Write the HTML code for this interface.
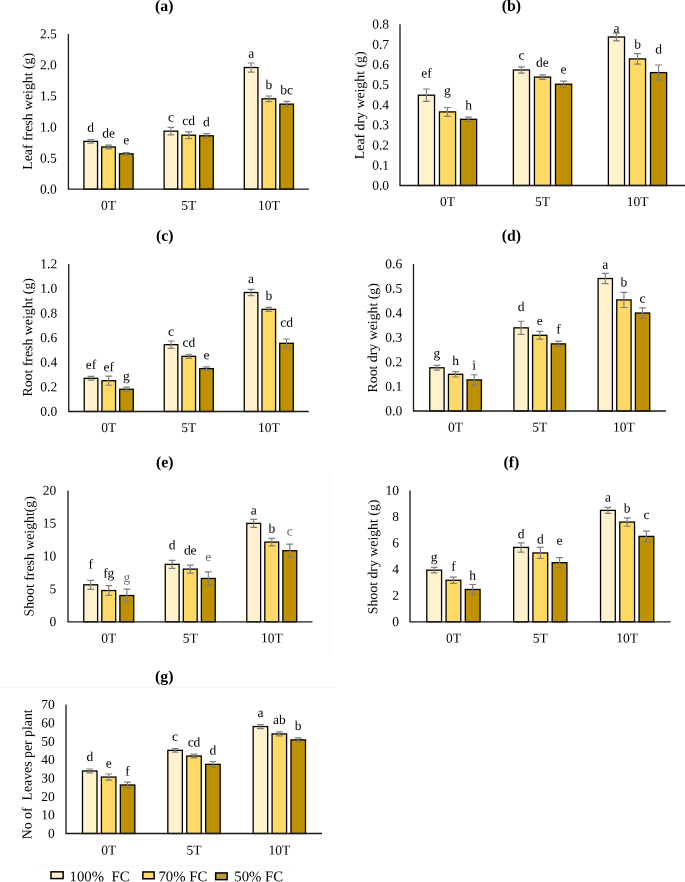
<!DOCTYPE html>
<html><head><meta charset="utf-8"><style>
html,body{margin:0;padding:0;background:#fff;}
body{width:685px;height:882px;overflow:hidden;}
svg{display:block;font-family:"Liberation Serif",serif;will-change:transform;}
.t{font-size:15.8px;font-weight:bold;text-anchor:middle;}
.k{font-size:13.5px;text-anchor:end;}
.yt{font-size:13.8px;text-anchor:middle;}
.cat{font-size:13.5px;text-anchor:middle;}
.l{font-size:13.5px;text-anchor:middle;}
.lg{font-size:14.8px;}
.bar{stroke:#000;stroke-width:1.3;}
.err{stroke:#7F7F7F;stroke-width:1.2;fill:none;}
.ax{stroke:#1a1a1a;stroke-width:1.3;fill:none;}
</style></head><body>
<svg width="685" height="882" viewBox="0 0 685 882">
<g><text x="164.3" y="11.05" class="t" transform="rotate(0.1 164.3 11.05)">(a)</text><text x="56.8" y="193.5" class="k" transform="rotate(0.1 56.8 193.5)">0.0</text><text x="56.8" y="162.46" class="k" transform="rotate(0.1 56.8 162.46)">0.5</text><text x="56.8" y="131.42" class="k" transform="rotate(0.1 56.8 131.42)">1.0</text><text x="56.8" y="100.38" class="k" transform="rotate(0.1 56.8 100.38)">1.5</text><text x="56.8" y="69.34" class="k" transform="rotate(0.1 56.8 69.34)">2.0</text><text x="56.8" y="38.3" class="k" transform="rotate(0.1 56.8 38.3)">2.5</text><text transform="translate(32.2,111.3) rotate(-89.9)" class="yt">Leaf fresh weight (g)</text><rect x="83.91" y="141.4" width="13.63" height="47.8" fill="#FFF2CC" class="bar"/><rect x="101.68" y="146.99" width="13.63" height="42.21" fill="#FFD966" class="bar"/><rect x="119.46" y="153.81" width="13.63" height="35.39" fill="#BF9000" class="bar"/><rect x="164.11" y="131.16" width="13.63" height="58.04" fill="#FFF2CC" class="bar"/><rect x="181.88" y="135.19" width="13.63" height="54.01" fill="#FFD966" class="bar"/><rect x="199.66" y="135.81" width="13.63" height="53.39" fill="#BF9000" class="bar"/><rect x="244.31" y="67.52" width="13.63" height="121.68" fill="#FFF2CC" class="bar"/><rect x="262.08" y="98.81" width="13.63" height="90.39" fill="#FFD966" class="bar"/><rect x="279.86" y="104.15" width="13.63" height="85.05" fill="#BF9000" class="bar"/><path d="M90.73 139.54V143.26M87.33 139.54H94.13M87.33 143.26H94.13" class="err"/><path d="M108.5 145.12V148.85M105.1 145.12H111.9M105.1 148.85H111.9" class="err"/><path d="M126.27 152.57V155.06M122.87 152.57H129.67M122.87 155.06H129.67" class="err"/><path d="M170.93 127.43V134.88M167.53 127.43H174.33M167.53 134.88H174.33" class="err"/><path d="M188.7 131.78V138.6M185.3 131.78H192.1M185.3 138.6H192.1" class="err"/><path d="M206.47 133.64V137.98M203.07 133.64H209.87M203.07 137.98H209.87" class="err"/><path d="M251.13 62.99V72.06M247.73 62.99H254.53M247.73 72.06H254.53" class="err"/><path d="M268.9 96.02V101.61M265.5 96.02H272.3M265.5 101.61H272.3" class="err"/><path d="M286.67 101.36V106.94M283.27 101.36H290.07M283.27 106.94H290.07" class="err"/><text x="90.73" y="131.8" class="l" transform="rotate(0.1 90.73 131.8)">d</text><text x="108.5" y="137.4" class="l" transform="rotate(0.1 108.5 137.4)">de</text><text x="126.27" y="144.3" class="l" transform="rotate(0.1 126.27 144.3)">e</text><text x="170.93" y="121.4" class="l" transform="rotate(0.1 170.93 121.4)">c</text><text x="188.7" y="125.1" class="l" transform="rotate(0.1 188.7 125.1)">cd</text><text x="206.47" y="126.3" class="l" transform="rotate(0.1 206.47 126.3)">d</text><text x="251.13" y="57.8" class="l" transform="rotate(0.1 251.13 57.8)">a</text><text x="268.9" y="89.1" class="l" transform="rotate(0.1 268.9 89.1)">b</text><text x="286.67" y="94.2" class="l" transform="rotate(0.1 286.67 94.2)">bc</text><path d="M68.4 34V189.2H309" class="ax"/><text x="108.5" y="209.8" class="cat" transform="rotate(0.1 108.5 209.8)">0T</text><text x="188.7" y="209.8" class="cat" transform="rotate(0.1 188.7 209.8)">5T</text><text x="268.9" y="209.8" class="cat" transform="rotate(0.1 268.9 209.8)">10T</text></g><g><text x="511.3" y="10.85" class="t" transform="rotate(0.1 511.3 10.85)">(b)</text><text x="389" y="189.8" class="k" transform="rotate(0.1 389 189.8)">0.0</text><text x="389" y="169.65" class="k" transform="rotate(0.1 389 169.65)">0.1</text><text x="389" y="149.5" class="k" transform="rotate(0.1 389 149.5)">0.2</text><text x="389" y="129.35" class="k" transform="rotate(0.1 389 129.35)">0.3</text><text x="389" y="109.2" class="k" transform="rotate(0.1 389 109.2)">0.4</text><text x="389" y="89.05" class="k" transform="rotate(0.1 389 89.05)">0.5</text><text x="389" y="68.9" class="k" transform="rotate(0.1 389 68.9)">0.6</text><text x="389" y="48.75" class="k" transform="rotate(0.1 389 48.75)">0.7</text><text x="389" y="28.6" class="k" transform="rotate(0.1 389 28.6)">0.8</text><text transform="translate(364.2,105.3) rotate(-89.9)" class="yt">Leaf dry weight (g)</text><rect x="418.37" y="95.2" width="16.15" height="90.3" fill="#FFF2CC" class="bar"/><rect x="439.43" y="111.9" width="16.15" height="73.6" fill="#FFD966" class="bar"/><rect x="460.48" y="119.3" width="16.15" height="66.2" fill="#BF9000" class="bar"/><rect x="513.37" y="70" width="16.15" height="115.5" fill="#FFF2CC" class="bar"/><rect x="534.42" y="77.1" width="16.15" height="108.4" fill="#FFD966" class="bar"/><rect x="555.48" y="84.2" width="16.15" height="101.3" fill="#BF9000" class="bar"/><rect x="608.37" y="37" width="16.15" height="148.5" fill="#FFF2CC" class="bar"/><rect x="629.42" y="58.9" width="16.15" height="126.6" fill="#FFD966" class="bar"/><rect x="650.48" y="72.6" width="16.15" height="112.9" fill="#BF9000" class="bar"/><path d="M426.45 89V101.4M423.05 89H429.85M423.05 101.4H429.85" class="err"/><path d="M447.5 107.5V116.3M444.1 107.5H450.9M444.1 116.3H450.9" class="err"/><path d="M468.55 117.1V121.5M465.15 117.1H471.95M465.15 121.5H471.95" class="err"/><path d="M521.45 66.9V73.1M518.05 66.9H524.85M518.05 73.1H524.85" class="err"/><path d="M542.5 74.9V79.3M539.1 74.9H545.9M539.1 79.3H545.9" class="err"/><path d="M563.55 81.1V87.3M560.15 81.1H566.95M560.15 87.3H566.95" class="err"/><path d="M616.45 33.2V40.8M613.05 33.2H619.85M613.05 40.8H619.85" class="err"/><path d="M637.5 53.7V64.1M634.1 53.7H640.9M634.1 64.1H640.9" class="err"/><path d="M658.55 65V80.2M655.15 65H661.95M655.15 80.2H661.95" class="err"/><text x="426.45" y="77.5" class="l" transform="rotate(0.1 426.45 77.5)">ef</text><text x="447.5" y="94.8" class="l" transform="rotate(0.1 447.5 94.8)">g</text><text x="468.55" y="109.5" class="l" transform="rotate(0.1 468.55 109.5)">h</text><text x="521.45" y="59.5" class="l" transform="rotate(0.1 521.45 59.5)">c</text><text x="542.5" y="66.8" class="l" transform="rotate(0.1 542.5 66.8)">de</text><text x="563.55" y="73.4" class="l" transform="rotate(0.1 563.55 73.4)">e</text><text x="616.45" y="32.4" class="l" transform="rotate(0.1 616.45 32.4)">a</text><text x="637.5" y="48.5" class="l" transform="rotate(0.1 637.5 48.5)">b</text><text x="658.55" y="53.6" class="l" transform="rotate(0.1 658.55 53.6)">d</text><path d="M400 24.3V185.5H685" class="ax"/><text x="447.5" y="206.1" class="cat" transform="rotate(0.1 447.5 206.1)">0T</text><text x="542.5" y="206.1" class="cat" transform="rotate(0.1 542.5 206.1)">5T</text><text x="637.5" y="206.1" class="cat" transform="rotate(0.1 637.5 206.1)">10T</text></g><g><text x="164.8" y="240.65" class="t" transform="rotate(0.1 164.8 240.65)">(c)</text><text x="57.2" y="415.8" class="k" transform="rotate(0.1 57.2 415.8)">0.0</text><text x="57.2" y="391.22" class="k" transform="rotate(0.1 57.2 391.22)">0.2</text><text x="57.2" y="366.63" class="k" transform="rotate(0.1 57.2 366.63)">0.4</text><text x="57.2" y="342.05" class="k" transform="rotate(0.1 57.2 342.05)">0.6</text><text x="57.2" y="317.47" class="k" transform="rotate(0.1 57.2 317.47)">0.8</text><text x="57.2" y="292.88" class="k" transform="rotate(0.1 57.2 292.88)">1.0</text><text x="57.2" y="268.3" class="k" transform="rotate(0.1 57.2 268.3)">1.2</text><text transform="translate(32.2,337.3) rotate(-89.9)" class="yt">Root fresh weight (g)</text><rect x="84.23" y="378.31" width="13.6" height="33.19" fill="#FFF2CC" class="bar"/><rect x="101.96" y="380.71" width="13.6" height="30.79" fill="#FFD966" class="bar"/><rect x="119.69" y="389.25" width="13.6" height="22.25" fill="#BF9000" class="bar"/><rect x="164.24" y="344.69" width="13.6" height="66.81" fill="#FFF2CC" class="bar"/><rect x="181.97" y="356.31" width="13.6" height="55.19" fill="#FFD966" class="bar"/><rect x="199.71" y="368.6" width="13.6" height="42.9" fill="#BF9000" class="bar"/><rect x="244.26" y="292.52" width="13.6" height="118.98" fill="#FFF2CC" class="bar"/><rect x="261.99" y="309.36" width="13.6" height="102.14" fill="#FFD966" class="bar"/><rect x="279.72" y="343.28" width="13.6" height="68.22" fill="#BF9000" class="bar"/><path d="M91.03 376.41V380.22M87.63 376.41H94.43M87.63 380.22H94.43" class="err"/><path d="M108.76 376.16V385.26M105.36 376.16H112.16M105.36 385.26H112.16" class="err"/><path d="M126.49 387.16V391.34M123.09 387.16H129.89M123.09 391.34H129.89" class="err"/><path d="M171.04 341.01V348.38M167.64 341.01H174.44M167.64 348.38H174.44" class="err"/><path d="M188.78 354.26V358.36M185.38 354.26H192.18M185.38 358.36H192.18" class="err"/><path d="M206.51 366.88V370.32M203.11 366.88H209.91M203.11 370.32H209.91" class="err"/><path d="M251.06 289.44V295.59M247.66 289.44H254.46M247.66 295.59H254.46" class="err"/><path d="M268.79 307.39V311.32M265.39 307.39H272.19M265.39 311.32H272.19" class="err"/><path d="M286.52 338.98V347.58M283.12 338.98H289.92M283.12 347.58H289.92" class="err"/><text x="91.03" y="369" class="l" transform="rotate(0.1 91.03 369)">ef</text><text x="108.76" y="371.2" class="l" transform="rotate(0.1 108.76 371.2)">ef</text><text x="126.49" y="380.2" class="l" transform="rotate(0.1 126.49 380.2)">g</text><text x="171.04" y="335.8" class="l" transform="rotate(0.1 171.04 335.8)">c</text><text x="188.78" y="346.7" class="l" transform="rotate(0.1 188.78 346.7)">cd</text><text x="206.51" y="359.3" class="l" transform="rotate(0.1 206.51 359.3)">e</text><text x="251.06" y="283" class="l" transform="rotate(0.1 251.06 283)">a</text><text x="268.79" y="299.9" class="l" transform="rotate(0.1 268.79 299.9)">b</text><text x="286.52" y="326.7" class="l" transform="rotate(0.1 286.52 326.7)">cd</text><path d="M68.75 264V411.5H308.8" class="ax"/><text x="108.76" y="432.1" class="cat" transform="rotate(0.1 108.76 432.1)">0T</text><text x="188.78" y="432.1" class="cat" transform="rotate(0.1 188.78 432.1)">5T</text><text x="268.79" y="432.1" class="cat" transform="rotate(0.1 268.79 432.1)">10T</text></g><g><text x="511.3" y="240.65" class="t" transform="rotate(0.1 511.3 240.65)">(d)</text><text x="402.2" y="415.3" class="k" transform="rotate(0.1 402.2 415.3)">0.0</text><text x="402.2" y="390.8" class="k" transform="rotate(0.1 402.2 390.8)">0.1</text><text x="402.2" y="366.3" class="k" transform="rotate(0.1 402.2 366.3)">0.2</text><text x="402.2" y="341.8" class="k" transform="rotate(0.1 402.2 341.8)">0.3</text><text x="402.2" y="317.3" class="k" transform="rotate(0.1 402.2 317.3)">0.4</text><text x="402.2" y="292.8" class="k" transform="rotate(0.1 402.2 292.8)">0.5</text><text x="402.2" y="268.3" class="k" transform="rotate(0.1 402.2 268.3)">0.6</text><text transform="translate(377.1,337.8) rotate(-89.9)" class="yt">Root dry weight (g)</text><rect x="429.78" y="367.79" width="14.31" height="43.21" fill="#FFF2CC" class="bar"/><rect x="448.43" y="374.31" width="14.31" height="36.69" fill="#FFD966" class="bar"/><rect x="467.08" y="379.89" width="14.31" height="31.11" fill="#BF9000" class="bar"/><rect x="513.94" y="327.85" width="14.31" height="83.15" fill="#FFF2CC" class="bar"/><rect x="532.6" y="335.3" width="14.31" height="75.7" fill="#FFD966" class="bar"/><rect x="551.25" y="343.9" width="14.31" height="67.1" fill="#BF9000" class="bar"/><rect x="598.11" y="278.51" width="14.31" height="132.49" fill="#FFF2CC" class="bar"/><rect x="616.76" y="299.92" width="14.31" height="111.08" fill="#FFD966" class="bar"/><rect x="635.41" y="313.01" width="14.31" height="97.99" fill="#BF9000" class="bar"/><path d="M436.93 365.39V370.19M433.53 365.39H440.33M433.53 370.19H440.33" class="err"/><path d="M455.58 371.61V377M452.18 371.61H458.98M452.18 377H458.98" class="err"/><path d="M474.23 374.75V385.04M470.83 374.75H477.63M470.83 385.04H477.63" class="err"/><path d="M521.1 321.24V334.47M517.7 321.24H524.5M517.7 334.47H524.5" class="err"/><path d="M539.75 331.46V339.15M536.35 331.46H543.15M536.35 339.15H543.15" class="err"/><path d="M558.4 341.21V346.6M555 341.21H561.8M555 346.6H561.8" class="err"/><path d="M605.27 273.47V283.56M601.87 273.47H608.67M601.87 283.56H608.67" class="err"/><path d="M623.92 292.33V307.52M620.52 292.33H627.32M620.52 307.52H627.32" class="err"/><path d="M642.57 307.86V318.15M639.17 307.86H645.97M639.17 318.15H645.97" class="err"/><text x="436.93" y="357.4" class="l" transform="rotate(0.1 436.93 357.4)">g</text><text x="455.58" y="364.9" class="l" transform="rotate(0.1 455.58 364.9)">h</text><text x="474.23" y="369.4" class="l" transform="rotate(0.1 474.23 369.4)">i</text><text x="521.1" y="311.1" class="l" transform="rotate(0.1 521.1 311.1)">d</text><text x="539.75" y="324.9" class="l" transform="rotate(0.1 539.75 324.9)">e</text><text x="558.4" y="333.5" class="l" transform="rotate(0.1 558.4 333.5)">f</text><text x="605.27" y="268.8" class="l" transform="rotate(0.1 605.27 268.8)">a</text><text x="623.92" y="286.6" class="l" transform="rotate(0.1 623.92 286.6)">b</text><text x="642.57" y="302.7" class="l" transform="rotate(0.1 642.57 302.7)">c</text><path d="M413.5 264V411H666" class="ax"/><text x="455.58" y="431.6" class="cat" transform="rotate(0.1 455.58 431.6)">0T</text><text x="539.75" y="431.6" class="cat" transform="rotate(0.1 539.75 431.6)">5T</text><text x="623.92" y="431.6" class="cat" transform="rotate(0.1 623.92 431.6)">10T</text></g><g><text x="164.7" y="467.15" class="t" transform="rotate(0.1 164.7 467.15)">(e)</text><text x="56.3" y="626.1" class="k" transform="rotate(0.1 56.3 626.1)">0</text><text x="56.3" y="593.25" class="k" transform="rotate(0.1 56.3 593.25)">5</text><text x="56.3" y="560.4" class="k" transform="rotate(0.1 56.3 560.4)">10</text><text x="56.3" y="527.55" class="k" transform="rotate(0.1 56.3 527.55)">15</text><text x="56.3" y="494.7" class="k" transform="rotate(0.1 56.3 494.7)">20</text><text transform="translate(33.7,556.3) rotate(-89.9)" class="yt">Shoot fresh weight(g)</text><rect x="83.76" y="584.81" width="13.86" height="36.99" fill="#FFF2CC" class="bar"/><rect x="101.82" y="590.53" width="13.86" height="31.27" fill="#FFD966" class="bar"/><rect x="119.88" y="595.52" width="13.86" height="26.28" fill="#BF9000" class="bar"/><rect x="165.26" y="564.38" width="13.86" height="57.42" fill="#FFF2CC" class="bar"/><rect x="183.32" y="569.11" width="13.86" height="52.69" fill="#FFD966" class="bar"/><rect x="201.38" y="578.44" width="13.86" height="43.36" fill="#BF9000" class="bar"/><rect x="246.76" y="523.38" width="13.86" height="98.42" fill="#FFF2CC" class="bar"/><rect x="264.82" y="542.11" width="13.86" height="79.69" fill="#FFD966" class="bar"/><rect x="282.88" y="550.71" width="13.86" height="71.09" fill="#BF9000" class="bar"/><path d="M90.69 580.34V589.28M87.29 580.34H94.09M87.29 589.28H94.09" class="err"/><path d="M108.75 585.6V595.45M105.35 585.6H112.15M105.35 595.45H112.15" class="err"/><path d="M126.81 589.08V601.96M123.41 589.08H130.21M123.41 601.96H130.21" class="err"/><path d="M172.19 560.44V568.32M168.79 560.44H175.59M168.79 568.32H175.59" class="err"/><path d="M190.25 565.1V573.12M186.85 565.1H193.65M186.85 573.12H193.65" class="err"/><path d="M208.31 571.87V585.01M204.91 571.87H211.71M204.91 585.01H211.71" class="err"/><path d="M253.69 519.37V527.39M250.29 519.37H257.09M250.29 527.39H257.09" class="err"/><path d="M271.75 538.43V545.79M268.35 538.43H275.15M268.35 545.79H275.15" class="err"/><path d="M289.81 544.21V557.22M286.41 544.21H293.21M286.41 557.22H293.21" class="err"/><text x="90.69" y="568.5" class="l" transform="rotate(0.1 90.69 568.5)">f</text><text x="108.75" y="577.6" class="l" transform="rotate(0.1 108.75 577.6)">fg</text><text x="126.81" y="581.8" class="l" transform="rotate(0.1 126.81 581.8)" fill="#686868">g</text><text x="172.19" y="549.2" class="l" transform="rotate(0.1 172.19 549.2)">d</text><text x="190.25" y="554.5" class="l" transform="rotate(0.1 190.25 554.5)">de</text><text x="208.31" y="561.1" class="l" transform="rotate(0.1 208.31 561.1)" fill="#686868">e</text><text x="253.69" y="514.5" class="l" transform="rotate(0.1 253.69 514.5)">a</text><text x="271.75" y="532.7" class="l" transform="rotate(0.1 271.75 532.7)">b</text><text x="289.81" y="535.5" class="l" transform="rotate(0.1 289.81 535.5)" fill="#686868">c</text><path d="M68 490.4V621.8H312.5" class="ax"/><text x="108.75" y="642.4" class="cat" transform="rotate(0.1 108.75 642.4)">0T</text><text x="190.25" y="642.4" class="cat" transform="rotate(0.1 190.25 642.4)">5T</text><text x="271.75" y="642.4" class="cat" transform="rotate(0.1 271.75 642.4)">10T</text></g><g><text x="511.4" y="467.15" class="t" transform="rotate(0.1 511.4 467.15)">(f)</text><text x="398.9" y="626.1" class="k" transform="rotate(0.1 398.9 626.1)">0</text><text x="398.9" y="599.82" class="k" transform="rotate(0.1 398.9 599.82)">2</text><text x="398.9" y="573.54" class="k" transform="rotate(0.1 398.9 573.54)">4</text><text x="398.9" y="547.26" class="k" transform="rotate(0.1 398.9 547.26)">6</text><text x="398.9" y="520.98" class="k" transform="rotate(0.1 398.9 520.98)">8</text><text x="398.9" y="494.7" class="k" transform="rotate(0.1 398.9 494.7)">10</text><text transform="translate(377.4,556.9) rotate(-89.9)" class="yt">Shoot dry weight (g)</text><rect x="426.8" y="570.16" width="14.77" height="51.64" fill="#FFF2CC" class="bar"/><rect x="446.05" y="580.28" width="14.77" height="41.52" fill="#FFD966" class="bar"/><rect x="465.3" y="589.48" width="14.77" height="32.32" fill="#BF9000" class="bar"/><rect x="513.67" y="547.43" width="14.77" height="74.37" fill="#FFF2CC" class="bar"/><rect x="532.92" y="552.95" width="14.77" height="68.85" fill="#FFD966" class="bar"/><rect x="552.17" y="562.67" width="14.77" height="59.13" fill="#BF9000" class="bar"/><rect x="600.53" y="510.37" width="14.77" height="111.43" fill="#FFF2CC" class="bar"/><rect x="619.78" y="522.07" width="14.77" height="99.73" fill="#FFD966" class="bar"/><rect x="639.03" y="536.39" width="14.77" height="85.41" fill="#BF9000" class="bar"/><path d="M434.18 567.4V572.92M430.78 567.4H437.58M430.78 572.92H437.58" class="err"/><path d="M453.43 577.12V583.43M450.03 577.12H456.83M450.03 583.43H456.83" class="err"/><path d="M472.68 584.48V594.47M469.28 584.48H476.08M469.28 594.47H476.08" class="err"/><path d="M521.05 542.83V552.03M517.65 542.83H524.45M517.65 552.03H524.45" class="err"/><path d="M540.3 547.43V558.47M536.9 547.43H543.7M536.9 558.47H543.7" class="err"/><path d="M559.55 557.55V567.79M556.15 557.55H562.95M556.15 567.79H562.95" class="err"/><path d="M607.92 507.35V513.39M604.52 507.35H611.32M604.52 513.39H611.32" class="err"/><path d="M627.17 517.86V526.27M623.77 517.86H630.57M623.77 526.27H630.57" class="err"/><path d="M646.42 531.13V541.65M643.02 531.13H649.82M643.02 541.65H649.82" class="err"/><text x="434.18" y="561.2" class="l" transform="rotate(0.1 434.18 561.2)">g</text><text x="453.43" y="570.7" class="l" transform="rotate(0.1 453.43 570.7)">f</text><text x="472.68" y="579.7" class="l" transform="rotate(0.1 472.68 579.7)">h</text><text x="521.05" y="538.3" class="l" transform="rotate(0.1 521.05 538.3)">d</text><text x="540.3" y="543.5" class="l" transform="rotate(0.1 540.3 543.5)">d</text><text x="559.55" y="544.7" class="l" transform="rotate(0.1 559.55 544.7)">e</text><text x="607.92" y="501.4" class="l" transform="rotate(0.1 607.92 501.4)">a</text><text x="627.17" y="512.6" class="l" transform="rotate(0.1 627.17 512.6)">b</text><text x="646.42" y="518.9" class="l" transform="rotate(0.1 646.42 518.9)">c</text><path d="M410 490.4V621.8H670.6" class="ax"/><text x="453.43" y="642.4" class="cat" transform="rotate(0.1 453.43 642.4)">0T</text><text x="540.3" y="642.4" class="cat" transform="rotate(0.1 540.3 642.4)">5T</text><text x="627.17" y="642.4" class="cat" transform="rotate(0.1 627.17 642.4)">10T</text></g><g><text x="164.2" y="681.55" class="t" transform="rotate(0.1 164.2 681.55)">(g)</text><text x="54.7" y="837.8" class="k" transform="rotate(0.1 54.7 837.8)">0</text><text x="54.7" y="819.37" class="k" transform="rotate(0.1 54.7 819.37)">10</text><text x="54.7" y="800.94" class="k" transform="rotate(0.1 54.7 800.94)">20</text><text x="54.7" y="782.51" class="k" transform="rotate(0.1 54.7 782.51)">30</text><text x="54.7" y="764.09" class="k" transform="rotate(0.1 54.7 764.09)">40</text><text x="54.7" y="745.66" class="k" transform="rotate(0.1 54.7 745.66)">50</text><text x="54.7" y="727.23" class="k" transform="rotate(0.1 54.7 727.23)">60</text><text x="54.7" y="708.8" class="k" transform="rotate(0.1 54.7 708.8)">70</text><text transform="translate(31.6,774.3) rotate(-89.9)" class="yt">No of  Leaves per plant</text><rect x="82.5" y="770.97" width="14.51" height="62.53" fill="#FFF2CC" class="bar"/><rect x="101.41" y="777.06" width="14.51" height="56.44" fill="#FFD966" class="bar"/><rect x="120.32" y="784.98" width="14.51" height="48.52" fill="#BF9000" class="bar"/><rect x="167.84" y="750.33" width="14.51" height="83.17" fill="#FFF2CC" class="bar"/><rect x="186.75" y="756.05" width="14.51" height="77.45" fill="#FFD966" class="bar"/><rect x="205.66" y="764.34" width="14.51" height="69.16" fill="#BF9000" class="bar"/><rect x="253.17" y="726.56" width="14.51" height="106.94" fill="#FFF2CC" class="bar"/><rect x="272.08" y="733.93" width="14.51" height="99.57" fill="#FFD966" class="bar"/><rect x="290.99" y="739.83" width="14.51" height="93.67" fill="#BF9000" class="bar"/><path d="M89.76 769.02V772.93M86.36 769.02H93.16M86.36 772.93H93.16" class="err"/><path d="M108.67 774.01V780.1M105.27 774.01H112.07M105.27 780.1H112.07" class="err"/><path d="M127.58 782.09V787.87M124.18 782.09H130.98M124.18 787.87H130.98" class="err"/><path d="M175.09 748.49V752.18M171.69 748.49H178.49M171.69 752.18H178.49" class="err"/><path d="M194 754.2V757.89M190.6 754.2H197.4M190.6 757.89H197.4" class="err"/><path d="M212.91 761.48V767.2M209.51 761.48H216.31M209.51 767.2H216.31" class="err"/><path d="M260.42 724.53V728.59M257.02 724.53H263.82M257.02 728.59H263.82" class="err"/><path d="M279.33 731.91V735.96M275.93 731.91H282.73M275.93 735.96H282.73" class="err"/><path d="M298.24 737.89V741.76M294.84 737.89H301.64M294.84 741.76H301.64" class="err"/><text x="89.76" y="760.9" class="l" transform="rotate(0.1 89.76 760.9)">d</text><text x="108.67" y="767.4" class="l" transform="rotate(0.1 108.67 767.4)">e</text><text x="127.58" y="775.6" class="l" transform="rotate(0.1 127.58 775.6)">f</text><text x="175.09" y="740.7" class="l" transform="rotate(0.1 175.09 740.7)">c</text><text x="194" y="746.5" class="l" transform="rotate(0.1 194 746.5)">cd</text><text x="212.91" y="754.5" class="l" transform="rotate(0.1 212.91 754.5)">d</text><text x="260.42" y="717.1" class="l" transform="rotate(0.1 260.42 717.1)">a</text><text x="279.33" y="724.1" class="l" transform="rotate(0.1 279.33 724.1)">ab</text><text x="298.24" y="729.9" class="l" transform="rotate(0.1 298.24 729.9)">b</text><path d="M66 704.5V833.5H322" class="ax"/><text x="108.67" y="854.6" class="cat" transform="rotate(0.1 108.67 854.6)">0T</text><text x="194" y="854.6" class="cat" transform="rotate(0.1 194 854.6)">5T</text><text x="279.33" y="854.6" class="cat" transform="rotate(0.1 279.33 854.6)">10T</text></g>
<path d="M329.4 473V654.7M0 687.3H336M37 866H293" stroke="#f7f7f7" stroke-width="1" fill="none"/><rect x="50.95" y="871.85" width="12.2" height="6.7" fill="#FFF2CC" stroke="#000" stroke-width="1.5"/><text x="69.5" y="881.2" class="lg" transform="rotate(0.1 69.5 881.2)">100%  FC</text><rect x="142.85" y="871.95" width="11.3" height="6.8" fill="#FFD96E" stroke="#000" stroke-width="1.5"/><text x="158.4" y="881.2" class="lg" transform="rotate(0.1 158.4 881.2)">70% FC</text><rect x="215.65" y="872.95" width="11.5" height="6.7" fill="#C29A38" stroke="#000" stroke-width="1.5"/><text x="234.3" y="881.2" class="lg" transform="rotate(0.1 234.3 881.2)">50% FC</text>
</svg>
</body></html>
